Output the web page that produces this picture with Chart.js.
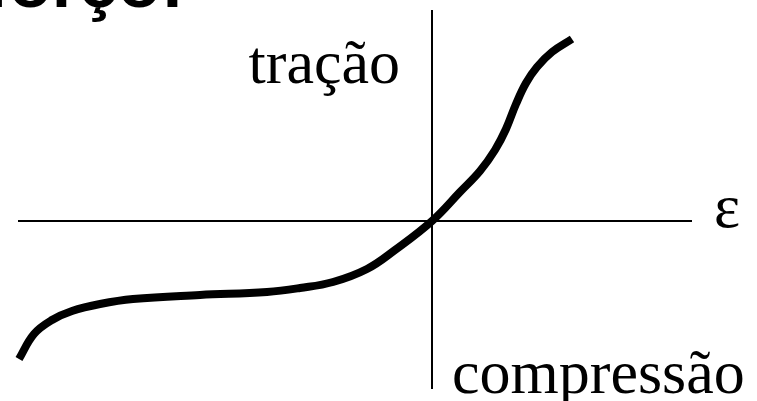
<!DOCTYPE html>
<html>
<head>
<meta charset="utf-8">
<script src="https://cdn.jsdelivr.net/npm/chart.js@4/dist/chart.umd.min.js"></script>
<style>
  body { margin: 0; background: #fff; }
  #wrap { width: 757px; height: 401px; }
</style>
</head>
<body>
<div id="wrap"><canvas id="curva" width="757" height="401"></canvas></div>
<script>
// curva tensão x deformação (unidades arbitrárias)
const deformacao = [-4.13, -3.98, -3.80, -3.60, -3.32, -2.99, -2.32, -1.65, -1.32, -0.99, -0.65, -0.37, 0,
                    0.28, 0.48, 0.63, 0.74, 0.84, 0.94, 1.05, 1.20, 1.40];
const tensao     = [-1.38, -1.13, -0.99, -0.90, -0.83, -0.78, -0.74, -0.71, -0.67, -0.61, -0.48, -0.29, 0,
                    0.29, 0.50, 0.71, 0.92, 1.17, 1.38, 1.54, 1.69, 1.82];

// extensão dos eixos
const eixoX = [-4.14, 2.60];
const eixoY = [-1.68, 2.11];

const rotulos = { tracao: 'tração', compressao: 'compressão', eps: 'ε', titulo: 'Esforço:' };

const pontos = deformacao.map((x, i) => ({ x, y: tensao[i] }));

const textos = {
  id: 'textos',
  afterDraw(chart) {
    const ctx = chart.ctx;
    const sx = chart.scales.x, sy = chart.scales.y;
    const x0 = sx.getPixelForValue(0), y0 = sy.getPixelForValue(0);
    ctx.save();
    ctx.fillStyle = '#000';
    ctx.textBaseline = 'alphabetic';

    ctx.font = 'bold 70px "Liberation Sans", Arial, sans-serif';
    ctx.textAlign = 'right';
    ctx.fillText(rotulos.titulo, 184, 7);

    ctx.font = '62px "Liberation Serif", "Times New Roman", serif';
    ctx.textAlign = 'right';
    ctx.fillText(rotulos.tracao, x0 - 32, 83);
    ctx.textAlign = 'left';
    ctx.fillText(rotulos.compressao, x0 + 20, 393);
    ctx.fillText(rotulos.eps, sx.getPixelForValue(eixoX[1]) + 22, y0 + 6);
    ctx.restore();
  }
};

new Chart(document.getElementById('curva'), {
  type: 'line',
  data: {
    datasets: [
      {
        data: [{ x: eixoX[0], y: 0 }, { x: eixoX[1], y: 0 }],
        borderColor: '#000', borderWidth: 2, pointRadius: 0, tension: 0
      },
      {
        data: [{ x: 0, y: eixoY[0] }, { x: 0, y: eixoY[1] }],
        borderColor: '#000', borderWidth: 2, pointRadius: 0, tension: 0
      },
      {
        data: pontos,
        borderColor: '#000',
        borderWidth: 8,
        borderCapStyle: 'butt',
        borderJoinStyle: 'round',
        pointRadius: 0,
        tension: 0.4,
        fill: false
      }
    ]
  },
  options: {
    responsive: false,
    animation: false,
    layout: { padding: 0 },
    plugins: { legend: { display: false }, tooltip: { enabled: false } },
    scales: {
      x: { type: 'linear', display: false, min: -4.32, max: 3.25 },
      y: { type: 'linear', display: false, min: -1.80, max: 2.21 }
    }
  },
  plugins: [textos]
});
</script>
</body>
</html>
